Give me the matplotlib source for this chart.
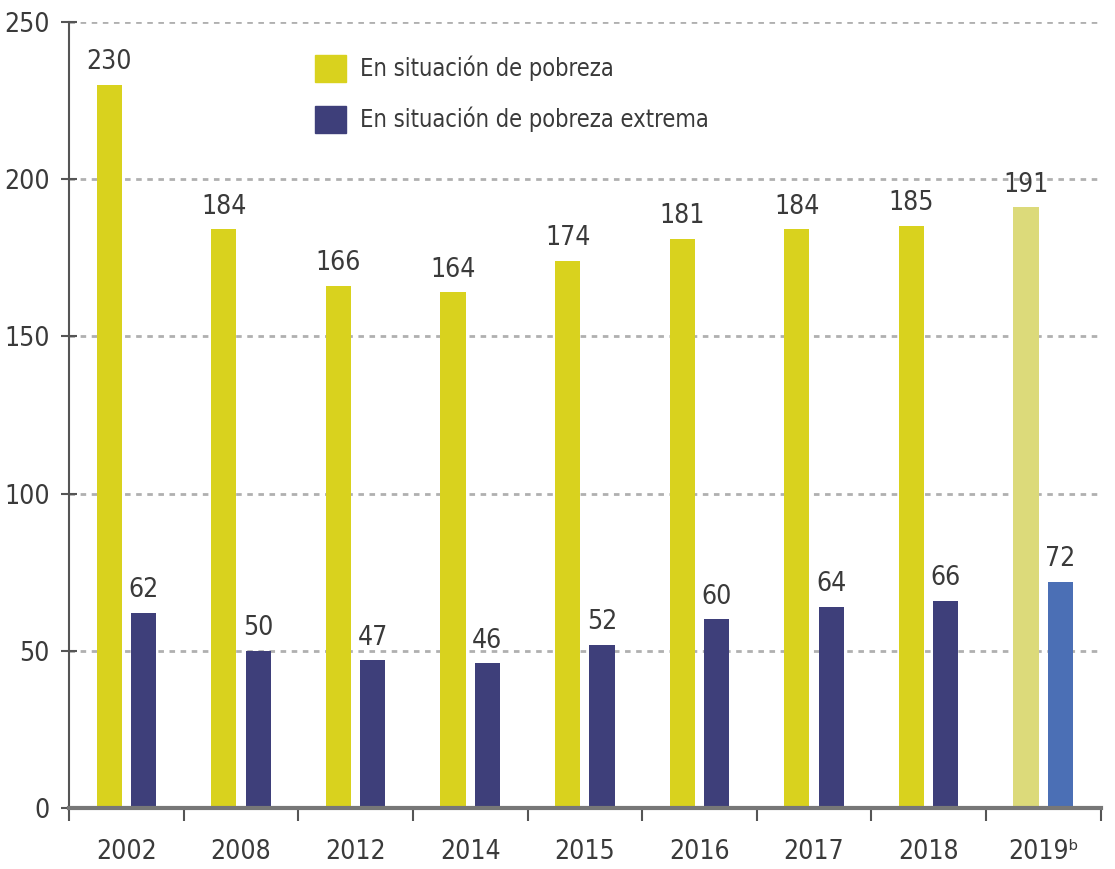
import matplotlib
matplotlib.use("Agg")
import matplotlib.pyplot as plt
import numpy as np

years = ["2002", "2008", "2012", "2014", "2015", "2016", "2017", "2018", "2019ᵇ"]
pobreza = [230, 184, 166, 164, 174, 181, 184, 185, 191]
extrema = [62, 50, 47, 46, 52, 60, 64, 66, 72]

plt.rcParams['font.family'] = ['DejaVu Sans']
plt.rcParams['font.stretch'] = 'condensed'

yellow = ["#D9D21E"] * 8 + ["#DCDA7A"]
navy = ["#3E3F7A"] * 8 + ["#4B6FB5"]
txt = "#3a3a3a"

fig = plt.figure(figsize=(11.15, 8.69), dpi=100)
ax = fig.add_axes([0.062, 0.07, 0.925, 0.905])

x = np.arange(len(years))
w = 0.22
b1 = ax.bar(x - 0.15, pobreza, w, color=yellow, label="En situación de pobreza", zorder=3)
b2 = ax.bar(x + 0.15, extrema, w, color=navy, label="En situación de pobreza extrema", zorder=3)

for bars, vals in ((b1, pobreza), (b2, extrema)):
    for r, v in zip(bars, vals):
        ax.annotate(str(v), (r.get_x() + r.get_width() / 2, v), xytext=(0, 7),
                    textcoords="offset points", ha="center", va="bottom",
                    fontsize=19, color=txt)

ax.set_xlim(-0.5, len(years) - 0.5)
ax.set_ylim(0, 250)
ax.set_yticks(range(0, 251, 50))
for yv in range(50, 251, 50):
    ax.axhline(yv, color="#b0b0b0", lw=2, ls=(0, (2, 2)), zorder=1)

ax.set_xticks(np.arange(-0.5, len(years), 1))
ax.set_xticklabels([])
ax.set_xticks(x, minor=True)
ax.set_xticklabels(years, minor=True)
ax.tick_params(axis="x", which="minor", length=0, pad=22, labelsize=19, labelcolor=txt)
ax.tick_params(axis="x", which="major", length=9, width=1.5, color="#555555", direction="out")
ax.tick_params(axis="y", length=12, width=1.5, color="#555555", direction="inout",
               labelsize=19, labelcolor=txt, pad=8)

for s in ("top", "right"):
    ax.spines[s].set_visible(False)
ax.spines["left"].set_color("#555555")
ax.spines["left"].set_linewidth(1.5)
ax.spines["bottom"].set_color("#777777")
ax.spines["bottom"].set_linewidth(3)
ax.spines["bottom"].set_zorder(4)

leg = ax.legend(loc="upper left", bbox_to_anchor=(0.218, 0.985), frameon=False,
                fontsize=17, handlelength=1.3, handleheight=1.4, labelspacing=1.0,
                handletextpad=0.6)
for t in leg.get_texts():
    t.set_color(txt)
leg.legend_handles[0].set_color("#D9D21E")
leg.legend_handles[1].set_color("#3E3F7A")

fig.savefig("out.png", dpi=100)
